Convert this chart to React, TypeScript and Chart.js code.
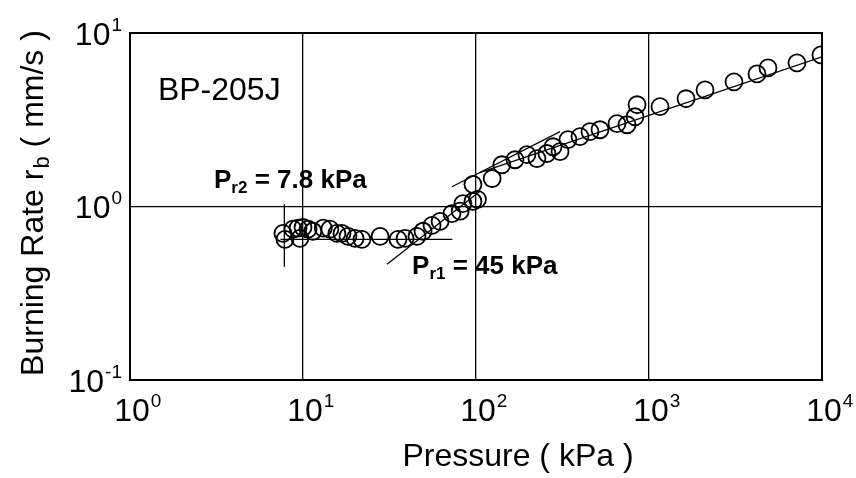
import React, { useEffect, useRef } from "react";
import { Chart, registerables } from "chart.js";

Chart.register(...registerables);

// ---- data ----
const pressures = [
  7.66, 7.87, 8.75, 9.36, 10.0, 10.7, 9.6, 11.4, 13.1, 14.3, 15.7, 16.8, 18.2, 20.0, 21.9, 27.9, 35.4, 38.9, 45.6, 49.4,
  55.7, 62, 72.6, 81, 84, 96, 96, 102, 124, 141, 168, 197, 225, 257, 279, 306, 340, 399, 456, 521, 653, 746, 830, 853,
  1158, 1637, 2108, 3099, 4209, 4874, 7166, 9864,
];
const rates = [
  0.7, 0.646, 0.74, 0.75, 0.757, 0.74, 0.655, 0.72, 0.75, 0.74, 0.7, 0.7, 0.673, 0.655, 0.646, 0.673, 0.646, 0.655, 0.673, 0.72,
  0.778, 0.82, 0.91, 0.94, 1.04, 1.07, 1.34, 1.1, 1.45, 1.74, 1.86, 1.99, 1.89, 2.02, 2.21, 2.07, 2.43, 2.53, 2.7, 2.77, 3.0, 2.96, 3.29, 3.86,
  3.76, 4.18, 4.7, 5.23, 5.81, 6.29, 6.73, 7.48,
];

// fitted / guide lines (pressure, rate pairs)
const plateauP = [7.4, 73];
const plateauR = [0.646, 0.646];
const pr2LineP = [7.8, 7.8];
const pr2LineR = [0.45, 1.03];
const steepP = [30.6, 105];
const steepR = [0.464, 1.22];
const middleP = [72.6, 306];
const middleR = [1.3, 2.7];
const upperP = [105, 10000];
const upperR = [1.57, 7.28];

const xTickValues = [1, 10, 100, 1000, 10000];
const xTickExps = ["0", "1", "2", "3", "4"];
const yTickValues = [0.1, 1, 10];
const yTickExps = ["-1", "0", "1"];

const xTitle = "Pressure ( kPa )";
const yTitleMain = "Burning Rate r";
const yTitleSub = "b";
const yTitleEnd = " ( mm/s )";
const sampleLabel = "BP-205J";
const pr2Label = { main: "P", sub: "r2", rest: " = 7.8 kPa", p: 3.06, r: 1.27 };
const pr1Label = { main: "P", sub: "r1", rest: " = 45 kPa", p: 42.7, r: 0.407 };
const sampleLabelPos = { p: 1.45, r: 4.12 };

const FONT = '"Liberation Sans", Arial, Helvetica, sans-serif';

const pairs = (xs: number[], ys: number[]) => xs.map((x, i) => ({ x, y: ys[i] }));

const lineDs = (xs: number[], ys: number[]) => ({
  type: "line" as const,
  data: pairs(xs, ys),
  showLine: true,
  borderColor: "#000",
  borderWidth: 1.3,
  pointRadius: 0,
  fill: false,
});

const decorPlugin = {
  id: "decor",
  afterDraw(chart: any) {
    const { ctx, chartArea, scales } = chart;
    const xs = scales.x;
    const ys = scales.y;
    ctx.save();
    // plot border
    ctx.strokeStyle = "#000";
    ctx.lineWidth = 2;
    ctx.strokeRect(chartArea.left, chartArea.top, chartArea.right - chartArea.left, chartArea.bottom - chartArea.top);

    ctx.fillStyle = "#000";
    ctx.textBaseline = "alphabetic";
    // x tick labels
    xTickValues.forEach((v, i) => {
      const px = xs.getPixelForValue(v);
      ctx.font = `32px ${FONT}`;
      const w = ctx.measureText("10").width;
      const left = px + 2 - w / 2;
      ctx.textAlign = "left";
      ctx.fillText("10", left, chartArea.bottom + 41);
      ctx.font = `19px ${FONT}`;
      ctx.fillText(xTickExps[i], left + w + 1, chartArea.bottom + 27);
    });
    // y tick labels
    yTickValues.forEach((v, i) => {
      const py = ys.getPixelForValue(v);
      ctx.font = `19px ${FONT}`;
      const sw = ctx.measureText(yTickExps[i]).width;
      const right = chartArea.left - 8;
      ctx.textAlign = "left";
      ctx.fillText(yTickExps[i], right - sw, py - 2.5);
      ctx.font = `32px ${FONT}`;
      ctx.textAlign = "right";
      ctx.fillText("10", right - sw - 1, py + 11.5);
    });

    // x title
    ctx.font = `32px ${FONT}`;
    ctx.textAlign = "center";
    ctx.fillText(xTitle, 518, chartArea.bottom + 86);

    // y title (rotated)
    ctx.save();
    ctx.translate(43, (chartArea.top + chartArea.bottom) / 2 - 3);
    ctx.rotate(-Math.PI / 2);
    ctx.font = `32px ${FONT}`;
    const w1 = ctx.measureText(yTitleMain).width;
    ctx.font = `22px ${FONT}`;
    const w2 = ctx.measureText(yTitleSub).width;
    ctx.font = `32px ${FONT}`;
    const w3 = ctx.measureText(yTitleEnd).width;
    let sx = -(w1 + w2 + w3) / 2;
    ctx.textAlign = "left";
    ctx.fillText(yTitleMain, sx, 0);
    sx += w1;
    ctx.font = `22px ${FONT}`;
    ctx.fillText(yTitleSub, sx + 1, 6);
    sx += w2 + 1;
    ctx.font = `32px ${FONT}`;
    ctx.fillText(yTitleEnd, sx, 0);
    ctx.restore();

    // sample label
    ctx.font = `32px ${FONT}`;
    ctx.textAlign = "left";
    ctx.fillText(sampleLabel, xs.getPixelForValue(sampleLabelPos.p), ys.getPixelForValue(sampleLabelPos.r));

    // transition labels
    [pr2Label, pr1Label].forEach((lab) => {
      const x0 = xs.getPixelForValue(lab.p);
      const y0 = ys.getPixelForValue(lab.r);
      ctx.font = `bold 26px ${FONT}`;
      ctx.fillText(lab.main, x0, y0);
      let x = x0 + ctx.measureText(lab.main).width;
      ctx.font = `bold 17px ${FONT}`;
      ctx.fillText(lab.sub, x, y0 + 5);
      x += ctx.measureText(lab.sub).width;
      ctx.font = `bold 26px ${FONT}`;
      ctx.fillText(lab.rest, x, y0);
    });
    ctx.restore();
  },
};

export default function App() {
  const ref = useRef<HTMLCanvasElement>(null);
  useEffect(() => {
    if (!ref.current) return;
    const chart = new Chart(ref.current, {
      type: "scatter",
      data: {
        datasets: [
          {
            data: pairs(pressures, rates),
            pointStyle: "circle",
            pointRadius: 8.5,
            backgroundColor: "rgba(0,0,0,0)",
            borderColor: "#000",
            borderWidth: 1.8,
          } as any,
          lineDs(plateauP, plateauR),
          lineDs(pr2LineP, pr2LineR),
          lineDs(steepP, steepR),
          lineDs(middleP, middleR),
          lineDs(upperP, upperR),
        ],
      },
      options: {
        responsive: false,
        animation: false,
        layout: { padding: { left: 130, top: 33, right: 34, bottom: 98 } },
        plugins: { legend: { display: false }, tooltip: { enabled: false } },
        scales: {
          x: {
            type: "logarithmic",
            min: 1,
            max: 10000,
            afterBuildTicks: (s: any) => {
              s.ticks = xTickValues.map((value) => ({ value }));
            },
            ticks: { display: false },
            grid: { color: "#000", lineWidth: 1.3, drawTicks: false },
            border: { display: false },
          },
          y: {
            type: "logarithmic",
            min: 0.1,
            max: 10,
            afterBuildTicks: (s: any) => {
              s.ticks = yTickValues.map((value) => ({ value }));
            },
            ticks: { display: false },
            grid: { color: "#000", lineWidth: 1.3, drawTicks: false },
            border: { display: false },
          },
        },
      },
      plugins: [decorPlugin],
    });
    return () => chart.destroy();
  }, []);
  return (
    <canvas
      ref={ref}
      width={856}
      height={478}
      style={{ position: "fixed", left: 0, top: 0, width: 856, height: 478, background: "#fff" }}
    />
  );
}
